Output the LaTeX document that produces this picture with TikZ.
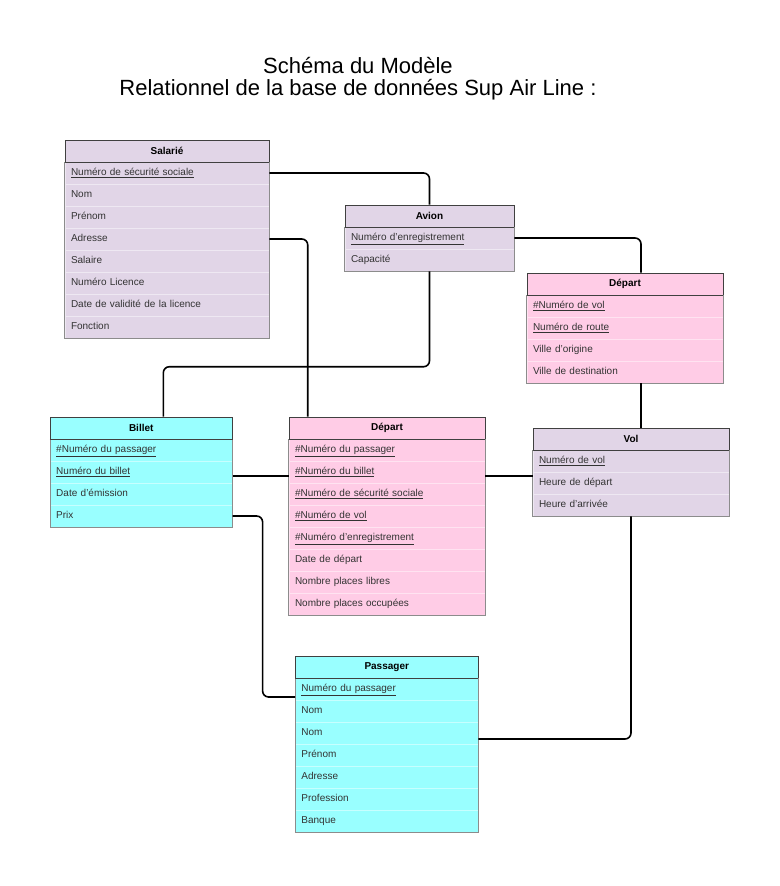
\documentclass[tikz,border=0pt]{standalone}
\usepackage{fontspec}
\setmainfont{Liberation Sans}
\usepackage{tikz}
\usetikzlibrary{positioning,calc}
\definecolor{lila}{HTML}{E1D5E7}
\definecolor{rose}{HTML}{FFCCE6}
\definecolor{turq}{HTML}{99FFFF}
\definecolor{txt}{HTML}{333333}

\begin{document}
\begin{tikzpicture}[x=0.75pt, y=-0.75pt, node distance=16.5pt]
\useasboundingbox (0,0) rectangle (780,886);
\tikzstyle{hbase}=[draw=black!75, minimum height=16.5pt, inner sep=0pt, font=\bfseries\fontsize{7.5}{9}\selectfont]
\tikzstyle{rbase}=[draw=white!45!lila, inner xsep=4.5pt, inner ysep=0pt, minimum height=16.5pt, text height=5.6pt, text depth=1.7pt, align=left, text=txt, font=\fontsize{7.5}{9}\selectfont]
\tikzstyle{frame}=[draw=black!45]
\tikzstyle{hline}=[draw=black!75]
\tikzstyle{link}=[draw=black, line width=1.2pt, rounded corners=4.5pt]

\node[font=\fontsize{16.5}{16.5}\selectfont, align=center] (titre) at (358,79) {Schéma du Modèle\\Relationnel de la base de données Sup Air Line :};

\tikzstyle{head}=[hbase, fill=lila, minimum width=153pt]
\tikzstyle{row}=[rbase, fill=lila, text width=144pt]
\node[head] (sal0) at (167,151)   {Salarié};
\node[row]  (sal1) [below of=sal0] {\underline{Numéro de sécurité sociale}};
\node[row]  (sal2) [below of=sal1] {Nom};
\node[row]  (sal3) [below of=sal2] {Prénom};
\node[row]  (sal4) [below of=sal3] {Adresse};
\node[row]  (sal5) [below of=sal4] {Salaire};
\node[row]  (sal6) [below of=sal5] {Numéro Licence};
\node[row]  (sal7) [below of=sal6] {Date de validité de la licence};
\node[row]  (sal8) [below of=sal7] {Fonction};

\tikzstyle{head}=[hbase, fill=lila, minimum width=126.75pt]
\tikzstyle{row}=[rbase, fill=lila, text width=117.75pt]
\node[head] (avi0) at (429.5,216) {Avion};
\node[row]  (avi1) [below of=avi0] {\underline{Numéro d'enregistrement}};
\node[row]  (avi2) [below of=avi1] {Capacité};

\tikzstyle{head}=[hbase, fill=rose, minimum width=147pt]
\tikzstyle{row}=[rbase, fill=rose, draw=white!45!rose, text width=138pt]
\node[head] (dpr0) at (625,284)   {Départ};
\node[row]  (dpr1) [below of=dpr0] {\underline{\#Numéro de vol}};
\node[row]  (dpr2) [below of=dpr1] {\underline{Numéro de route}};
\node[row]  (dpr3) [below of=dpr2] {Ville d'origine};
\node[row]  (dpr4) [below of=dpr3] {Ville de destination};

\tikzstyle{head}=[hbase, fill=turq, minimum width=136.5pt]
\tikzstyle{row}=[rbase, fill=turq, draw=white!45!turq, text width=127.5pt]
\node[head] (bil0) at (141.25,428) {Billet};
\node[row]  (bil1) [below of=bil0] {\underline{\#Numéro du passager}};
\node[row]  (bil2) [below of=bil1] {\underline{Numéro du billet}};
\node[row]  (bil3) [below of=bil2] {Date d'émission};
\node[row]  (bil4) [below of=bil3] {Prix};

\tikzstyle{head}=[hbase, fill=rose, minimum width=147pt]
\tikzstyle{row}=[rbase, fill=rose, draw=white!45!rose, text width=138pt]
\node[head] (dpm0) at (387,428)   {Départ};
\node[row]  (dpm1) [below of=dpm0] {\underline{\#Numéro du passager}};
\node[row]  (dpm2) [below of=dpm1] {\underline{\#Numéro du billet}};
\node[row]  (dpm3) [below of=dpm2] {\underline{\#Numéro de sécurité sociale}};
\node[row]  (dpm4) [below of=dpm3] {\underline{\#Numéro de vol}};
\node[row]  (dpm5) [below of=dpm4] {\underline{\#Numéro d'enregistrement}};
\node[row]  (dpm6) [below of=dpm5] {Date de départ};
\node[row]  (dpm7) [below of=dpm6] {Nombre places libres};
\node[row]  (dpm8) [below of=dpm7] {Nombre places occupées};

\tikzstyle{head}=[hbase, fill=lila, minimum width=147pt]
\tikzstyle{row}=[rbase, fill=lila, text width=138pt]
\node[head] (vol0) at (631,439)   {Vol};
\node[row]  (vol1) [below of=vol0] {\underline{Numéro de vol}};
\node[row]  (vol2) [below of=vol1] {Heure de départ};
\node[row]  (vol3) [below of=vol2] {Heure d'arrivée};

\tikzstyle{head}=[hbase, fill=turq, minimum width=137pt]
\tikzstyle{row}=[rbase, fill=turq, draw=white!45!turq, text width=128pt]
\node[head] (pas0) at (386.75,667) {Passager};
\node[row]  (pas1) [below of=pas0] {\underline{Numéro du passager}};
\node[row]  (pas2) [below of=pas1] {Nom};
\node[row]  (pas3) [below of=pas2] {Nom};
\node[row]  (pas4) [below of=pas3] {Prénom};
\node[row]  (pas5) [below of=pas4] {Adresse};
\node[row]  (pas6) [below of=pas5] {Profession};
\node[row]  (pas7) [below of=pas6] {Banque};

\foreach \h/\l in {sal0/sal8, avi0/avi2, dpr0/dpr4, bil0/bil4, dpm0/dpm8, vol0/vol3, pas0/pas7}
{\draw[frame] (\h.south west) |- (\l.south east) -- (\h.south east);
 \draw[hline] (\h.south west) -- (\h.south east);}

\draw[link] (sal1.east) -| (avi0.north);
\draw[link] (sal4.east) -| ([xshift=14.25pt]dpm0.north west);
\draw[link] (avi2.south) |- ($(bil0.north west)+(85pt,37.5pt)$) -- ([xshift=85pt]bil0.north west);
\draw[link] (avi1.east) -| ([xshift=12pt]dpr0.north);
\draw[link] ([xshift=12pt]dpr4.south) -- ([xshift=12pt]dpr4.south |- vol0.north);
\draw[link] ([yshift=-3pt]bil2.east) -- ([yshift=-3pt]dpm2.west);
\draw[link] ([yshift=-3pt]dpm2.east) -- ([yshift=-3pt]dpm2.east -| vol1.west);
\draw[link] (bil4.east) -| ([xshift=-24.4pt,yshift=-6pt]pas1.west) -- ([yshift=-6pt]pas1.west);
\draw[link] (vol3.south) |- ([yshift=-4.5pt]pas3.east);
\end{tikzpicture}
\end{document}
